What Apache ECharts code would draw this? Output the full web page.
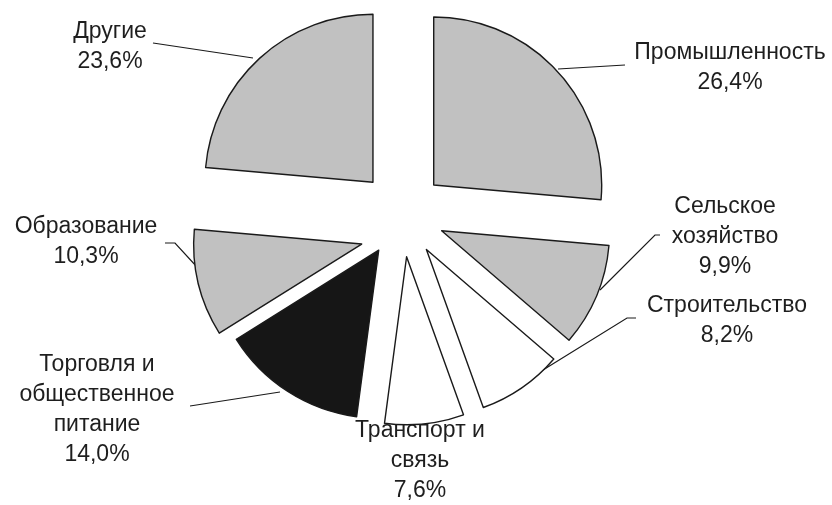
<!DOCTYPE html>
<html><head><meta charset="utf-8">
<script src="https://cdn.jsdelivr.net/npm/echarts@6/dist/echarts.min.js"></script>
<style>html,body{margin:0;padding:0;background:#fff}#c{width:832px;height:505px}</style>
</head><body><div id="c"></div>
<script>
// ---- data ----
const categories = ['Промышленность', 'Сельское\nхозяйство', 'Строительство', 'Транспорт и\nсвязь', 'Торговля и\nобщественное\nпитание', 'Образование', 'Другие'];
const shares = [26.4, 9.9, 8.2, 7.6, 14.0, 10.3, 23.6];

// ---- styling / layout (not data) ----
const fills = ['#c1c1c1', '#c1c1c1', '#ffffff', '#ffffff', '#161616', '#c1c1c1', '#c1c1c1'];
const baseCenter = [402, 214];
const pieRadius = 168;
const explode = 43;
const nudge = [[0, 0], [0, 0], [0, 0], [0, 0], [0, 0], [1.5, 20], [0, 0]];
const labelPos = [[730, 68], [725, 237], [727, 321], [420, 461], [97, 410], [86, 242], [110, 47]];
const leaderPts = [
  [[558, 69], [625, 65]],
  [[600, 290], [655, 235], [660, 235]],
  [[543, 370], [627, 318], [636, 318]],
  null,
  [[280, 392], [190, 406]],
  [[197, 267], [175, 243], [165, 243]],
  [[253, 58], [153, 43]]
];

function fmt(v) { return v.toFixed(1).replace('.', ','); }

const total = shares.reduce((a, b) => a + b, 0);
let acc = 0;
const midAngles = shares.map(v => { const m = (acc + v / 2) / total * 360; acc += v; return m; });

function sliceSeries(k) {
  const a = midAngles[k] * Math.PI / 180;
  const center = [baseCenter[0] + explode * Math.sin(a) + nudge[k][0], baseCenter[1] - explode * Math.cos(a) + nudge[k][1]];
  const data = categories.map((name, i) => {
    const mine = i === k;
    return {
      name, value: shares[i],
      itemStyle: mine ? { color: fills[i], borderColor: '#1a1a1a', borderWidth: 1.4 } : { color: 'rgba(0,0,0,0)', borderWidth: 0 },
      label: { show: mine },
      labelLine: { show: mine && leaderPts[i] !== null }
    };
  });
  return {
    type: 'pie', radius: pieRadius, center: center,
    startAngle: 90, clockwise: true, silent: true,
    avoidLabelOverlap: false, minShowLabelAngle: 0,
    emphasis: { disabled: true },
    label: {
      position: 'outer', alignTo: 'none',
      formatter: (d) => d.name + '\n' + fmt(d.value) + '%',
      fontFamily: 'Liberation Sans, Arial, sans-serif',
      fontSize: 23, lineHeight: 30, color: '#1e1e1e'
    },
    labelLine: { lineStyle: { color: '#1a1a1a', width: 1.2 } },
    labelLayout: (params) => {
      const i = params.dataIndex;
      const out = { x: labelPos[i][0], y: labelPos[i][1], align: 'center', verticalAlign: 'middle' };
      const lp = leaderPts[i];
      if (lp) out.labelLinePoints = lp.length === 2 ? [lp[0], lp[1], lp[1]] : lp;
      return out;
    },
    data
  };
}

const chart = echarts.init(document.getElementById('c'), null, { renderer: 'canvas' });
chart.setOption({
  animation: false,
  backgroundColor: '#ffffff',
  series: categories.map((_, k) => sliceSeries(k))
});
</script>
</body></html>
